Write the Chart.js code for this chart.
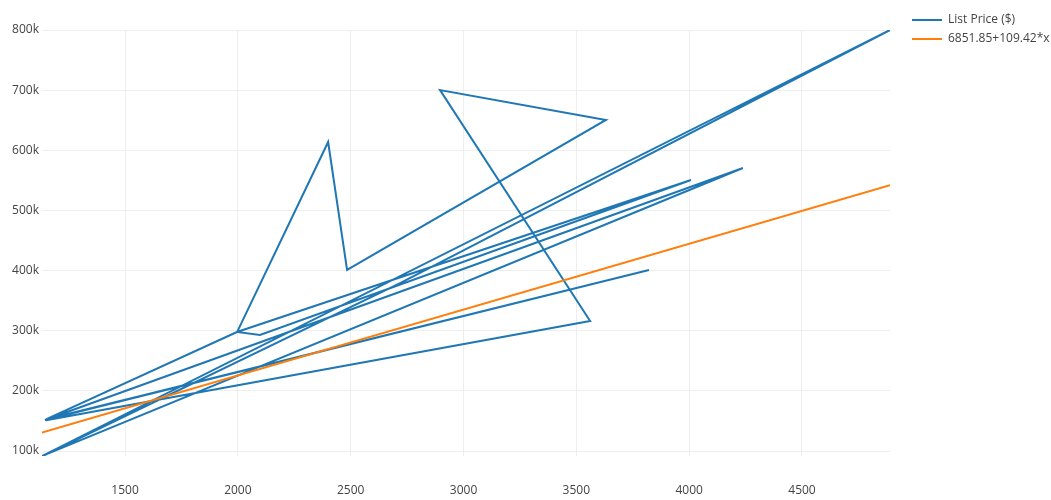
<!DOCTYPE html>
<html>
<head>
<meta charset="utf-8">
<script src="https://cdn.jsdelivr.net/npm/chart.js@4/dist/chart.umd.min.js"></script>
<style>
  html, body { margin: 0; padding: 0; background: #fff; }
  #wrap { width: 1051px; height: 500px; position: relative; }
</style>
</head>
<body>
<div id="wrap"><canvas id="c" width="1051" height="500"></canvas></div>
<script>
// Square footage (x) and list price (y), in the order they are connected
const sqft = [1140, 2719, 4890, 1132, 4238, 1145, 3822, 1152, 1996, 4008, 2098, 1997, 2400, 2484, 3631, 2896, 3561, 1150];
const listPrice = [92500, 379300, 800000, 91700, 570600, 151500, 401000, 153000, 297900, 550600, 292900, 298000, 613800, 401000, 650400, 700200, 316100, 151000];

// Linear fit line: 6851.85 + 109.42*x, end points
const fitX = [1132, 4890];
const fitY = [130715, 541905];

// Tick labels
const xTicks = [1500, 2000, 2500, 3000, 3500, 4000, 4500];
const yTicks = [100000, 200000, 300000, 400000, 500000, 600000, 700000, 800000];

const seriesNames = ['List Price ($)', '6851.85+109.42*x'];
const colors = ['#1f77b4', '#ff7f0e'];

const FONT = '"Open Sans", "DejaVu Sans", sans-serif';

const sideLegend = {
  id: 'sideLegend',
  afterDraw(chart) {
    const ctx = chart.ctx;
    const left = chart.chartArea.right + 22;
    chart.data.datasets.forEach((ds, i) => {
      const y = 20 + i * 19;
      ctx.save();
      ctx.strokeStyle = ds.borderColor;
      ctx.lineWidth = 2;
      ctx.beginPath();
      ctx.moveTo(left, y);
      ctx.lineTo(left + 30, y);
      ctx.stroke();
      ctx.fillStyle = '#444';
      ctx.font = '12px ' + FONT;
      ctx.textBaseline = 'middle';
      ctx.textAlign = 'left';
      ctx.fillText(ds.label, left + 36, y);
      ctx.restore();
    });
  }
};

new Chart(document.getElementById('c'), {
  type: 'scatter',
  data: {
    datasets: [
      {
        label: seriesNames[0],
        data: sqft.map((x, i) => ({ x: x, y: listPrice[i] })),
        showLine: true,
        borderColor: colors[0],
        backgroundColor: colors[0],
        borderWidth: 2,
        pointRadius: 0,
        tension: 0,
        order: 2
      },
      {
        label: seriesNames[1],
        data: fitX.map((x, i) => ({ x: x, y: fitY[i] })),
        showLine: true,
        borderColor: colors[1],
        backgroundColor: colors[1],
        borderWidth: 2,
        pointRadius: 0,
        tension: 0,
        order: 1
      }
    ]
  },
  options: {
    responsive: false,
    animation: false,
    devicePixelRatio: 1,
    layout: { padding: { top: 30, right: 161, bottom: 0, left: 0 } },
    plugins: {
      legend: { display: false },
      tooltip: { enabled: false }
    },
    scales: {
      x: {
        type: 'linear',
        min: Math.min(...sqft),
        max: Math.max(...sqft),
        afterBuildTicks: (s) => { s.ticks = xTicks.map(v => ({ value: v })); },
        afterFit: (s) => { s.height = 44; },
        grid: { color: '#eeeeee', lineWidth: 1, drawTicks: false },
        border: { display: false },
        ticks: {
          color: '#444',
          font: { family: FONT, size: 12 },
          padding: 27,
          maxRotation: 0,
          callback: (v) => String(v)
        }
      },
      y: {
        type: 'linear',
        min: Math.min(...listPrice),
        max: Math.max(...listPrice),
        afterBuildTicks: (s) => { s.ticks = yTicks.map(v => ({ value: v })); },
        afterFit: (s) => { s.width = 42; },
        grid: { color: '#eeeeee', lineWidth: 1, drawTicks: false },
        border: { display: false },
        ticks: {
          color: '#444',
          font: { family: FONT, size: 12 },
          padding: 3,
          callback: (v) => (v / 1000) + 'k'
        }
      }
    }
  },
  plugins: [sideLegend]
});
</script>
</body>
</html>
